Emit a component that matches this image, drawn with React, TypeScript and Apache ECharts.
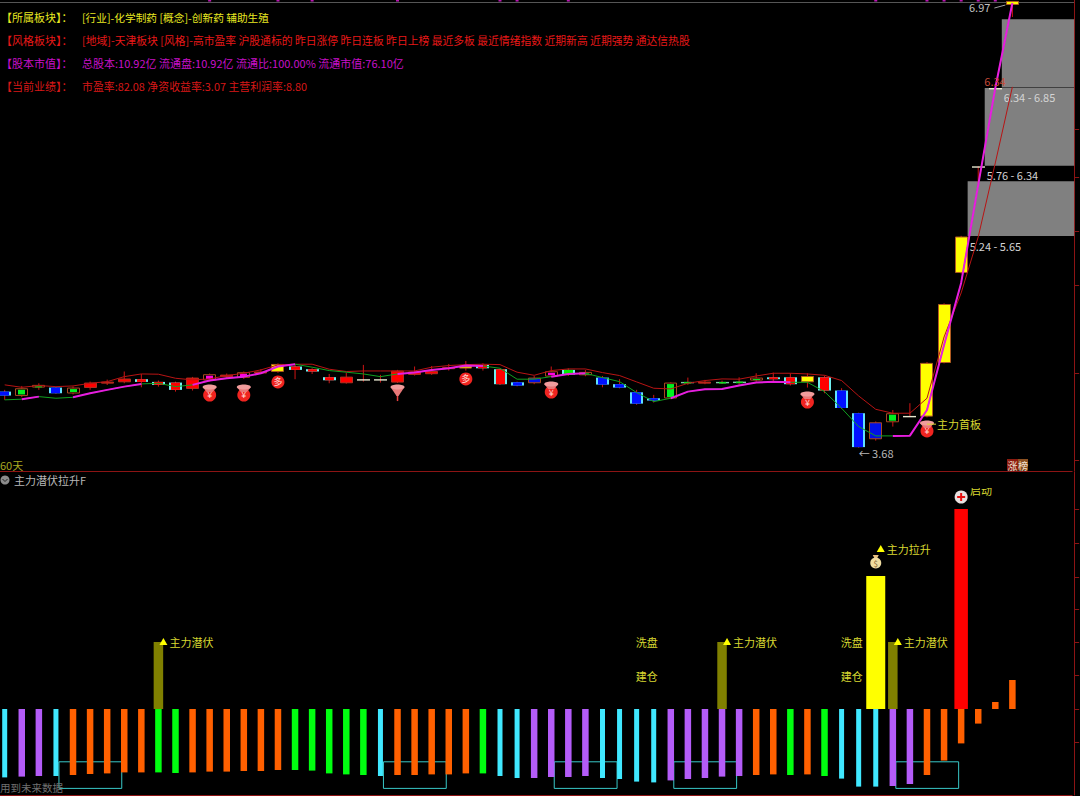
import React, { useEffect, useRef } from "react";
import * as echarts from "echarts";

// ---------- data ----------
const dayCount = 60;
const slotCount = 63;
const categories = Array.from({ length: slotCount }, (_, i) => String(i + 1));

const bodyTop = [4.091,4.116,4.141,4.121,4.121,4.158,4.165,4.188,4.183,4.163,4.158,4.195,4.220,4.217,4.235,4.240,4.296,4.277,4.257,4.198,4.202,4.183,4.183,4.247,4.240,4.244,4.272,4.284,4.289,4.257,4.160,4.195,4.242,4.252,4.237,4.195,4.146,4.086,4.042,4.158,4.163,4.165,4.163,4.165,4.195,4.197,4.197,4.207,4.197,4.099,3.931,3.864,3.931,3.911,4.304,4.740,5.240,5.760,6.340,6.985];
const bodyBottom = [4.062,4.059,4.121,4.079,4.077,4.118,4.151,4.160,4.163,4.141,4.104,4.111,4.173,4.198,4.193,4.230,4.237,4.252,4.240,4.175,4.153,4.178,4.178,4.158,4.215,4.220,4.259,4.262,4.264,4.146,4.136,4.153,4.202,4.217,4.212,4.143,4.121,4.002,4.025,4.040,4.156,4.153,4.155,4.153,4.173,4.183,4.146,4.160,4.099,3.970,3.680,3.738,3.864,3.906,3.906,4.303,4.970,5.755,6.335,6.955];
const highs = [4.104,4.133,4.153,4.125,4.130,4.165,4.180,4.240,4.222,4.173,4.165,4.200,4.225,4.225,4.240,4.257,4.300,4.296,4.264,4.222,4.232,4.289,4.215,4.252,4.277,4.281,4.296,4.318,4.301,4.260,4.165,4.207,4.277,4.264,4.252,4.207,4.183,4.104,4.067,4.160,4.195,4.178,4.173,4.197,4.227,4.232,4.227,4.227,4.210,4.116,3.935,3.870,3.955,4.005,4.310,4.745,5.245,5.760,6.340,6.985];
const lows = [4.030,4.050,4.104,4.075,4.070,4.105,4.140,4.153,4.123,4.128,4.091,4.099,4.165,4.190,4.185,4.222,4.230,4.183,4.222,4.153,4.150,4.165,4.158,4.155,4.210,4.215,4.247,4.247,4.247,4.140,4.130,4.146,4.200,4.207,4.205,4.123,4.115,3.993,4.010,4.035,4.141,4.146,4.148,4.141,4.165,4.158,4.136,4.121,4.079,3.963,3.676,3.728,3.832,3.906,3.900,4.300,4.965,5.640,6.335,6.866];
const candleKinds = ["BC","GB","GB","BC","GB","R","R","R","RC","RC","RC","R","MB","R","MB","R","Y","RC","RC","RC","R","D","D","R","R","R","R","Y","RC","RC","BC","BB","MB","GC","GB","BC","BC","BC","BC","GB","DG","R","DG","DG","GB","RC","RC","Y","RC","BC","BC","BB","GB","D","Y","Y","Y","D","D","Y"];

const redLine = [4.141,4.123,4.136,4.128,4.133,4.153,4.165,4.202,4.222,4.220,4.190,4.178,4.185,4.210,4.227,4.252,4.289,4.294,4.294,4.257,4.240,4.244,4.244,4.244,4.244,4.272,4.284,4.291,4.294,4.291,4.235,4.212,4.247,4.259,4.259,4.232,4.210,4.163,4.116,4.111,4.153,4.173,4.185,4.183,4.207,4.227,4.227,4.222,4.212,4.173,4.059,3.960,3.931,3.931,4.042,4.496,4.822,5.237,5.785,6.348];
const trendLine = [4.030,4.035,4.054,4.042,4.049,4.079,4.104,4.128,4.148,4.153,4.128,4.141,4.173,4.190,4.202,4.227,4.277,4.294,4.272,4.247,4.235,4.222,4.202,4.222,4.232,4.252,4.264,4.284,4.281,4.264,4.183,4.183,4.202,4.222,4.227,4.195,4.165,4.084,4.017,4.042,4.091,4.109,4.111,4.136,4.158,4.165,4.160,4.160,4.091,3.968,3.832,3.763,3.763,3.765,3.955,4.437,4.896,5.622,6.340,6.970];
const risingRanges = [[1,2],[4,8],[11,17],[23,28],[32,34],[39,46],[52,59]];

const zoneStart = [58, 57, 56];
const zoneLow = [6.34, 5.76, 5.24];
const zoneHigh = [6.85, 6.34, 5.65];

const topMarks = [12,16,18,23,29,30,33,51,54,55,56,57,58];

const iconIndex = [12,14,16,23,27,32,47,54];
const iconValue = [4.066,4.066,4.163,4.110,4.185,4.088,4.014,3.800];
const iconKinds = ["cap","cap","coin","stem","coin","cap","cap","cap"];

const noteIndex = [54, 50, 59, 58];
const noteValue = [3.850, 3.637, 6.940, 6.390];
const noteText = ["主力首板", "← 3.68", "6.97", "6.34"];

const lowerBars = [-34.2,-33.8,-33.5,-33.5,-33,-32.5,-32.2,-31.7,-31.7,-31.7,-32,-31.7,-31.3,-31.3,-31,-31,-30.5,-30.5,-30.8,-32.2,-32.7,-33,-33.5,-33,-33,-32.7,-32.7,-32.2,-32.2,-33.5,-34.5,-34.5,-34,-34,-33.5,-34.5,-35,-36.3,-36.7,-35.7,-35,-34.5,-33.8,-33.5,-33,-32.7,-33,-32.7,-33.5,-34.8,-38.8,-38.8,-38.5,-37.5,-33,-25.8,-17.2,-7.3,3.5,14.5];
const lowerKinds = ["C","P","P","C","O","O","O","O","O","G","G","O","O","O","O","O","O","G","G","G","G","G","C","O","O","O","O","O","G","C","C","P","P","P","P","C","C","C","C","P","P","P","P","P","O","O","G","O","G","C","C","C","P","P","O","O","O","O","O","O"];

const signalIndex = [9, 42, 51, 52, 56];
const signalValue = [33.5, 33.5, 66.5, 33.5, 100];
const signalKinds = ["olive", "olive", "yellow", "olive", "red"];

const bracketStart = [3, 22, 32, 39, 52];
const bracketEnd = [7, 26, 36, 43, 56];
const bracketTop = -26.4;
const bracketBottom = -39.7;

const tagIndex = [9, 42, 51, 52];
const tagValue = [33.5, 33.5, 80, 33.5];
const tagText = ["主力潜伏", "主力潜伏", "主力拉升", "主力潜伏"];

const sideIndex = [39, 39, 51, 51];
const sideValue = [33.5, 16.5, 33.5, 16.5];
const sideText = ["洗盘", "建仓", "洗盘", "建仓"];

const priceTicks = [6.037, 5.681, 5.281, 4.881, 4.229, 3.585];
const signalTicks = [100, 83, 66, 50, 33.5, 17, 0, -16.5];

const headerTitles = ["【所属板块】：", "【风格板块】：", "【股本市值】：", "【当前业绩】："];
const headerBodies = [
  "[行业]-化学制药 [概念]-创新药 辅助生殖",
  "[地域]-天津板块 [风格]-高市盈率 沪股通标的 昨日涨停 昨日连板 昨日上榜 最近多板 最近情绪指数 近期新高 近期强势 通达信热股",
  "总股本:10.92亿 流通盘:10.92亿 流通比:100.00% 流通市值:76.10亿",
  "市盈率:82.08 净资收益率:3.07 主营利润率:8.80",
];
const headerColors = ["#e8e820", "#e81818", "#c810c8", "#d81818"];
const headerSizes = [10.7, 10.8, 11, 10.9];

// ---------- styles ----------
const FONT = '"Noto Sans CJK SC", "Noto Sans", sans-serif';
const AXIS_RED = "#8c1414";
const candleStyles: Record<string, any> = {
  R: { fill: "#ff0000", edge: "#b03020" },
  RC: { fill: "#ff0000", side: "#70f0f0" },
  BC: { fill: "#0010ff", side: "#60e0ff" },
  GC: { fill: "#00f000", side: "#70f0f0" },
  BB: { fill: "#0010e8", edge: "#a84820" },
  GB: { inner: "#00f020", edge: "#a84820" },
  MB: { inner: "#ff00e0", edge: "#a84820" },
  Y: { fill: "#ffff00", edge: "#b05a20" },
  D: { dash: "#e8e8d0" },
  DG: { dash: "#78c8a0", core: "#10e020" },
};
const lowerStyles: Record<string, any> = {
  C: { color: "#40e8ff", width: 5 },
  P: { color: "#b45cf8", width: 6.5 },
  O: { color: "#ff6000", width: 6.5 },
  G: { color: "#00ff10", width: 6.5 },
};
const signalStyles: Record<string, any> = {
  olive: { color: "#808000", width: 9.5 },
  yellow: { color: "#ffff00", width: 19 },
  red: { color: "#ff0000", width: 13.5 },
};

function renderCandle(params: any, api: any) {
  const i = params.dataIndex;
  const cx = api.coord([i, 0])[0];
  const yTop = api.coord([i, bodyTop[i]])[1];
  const yBot = api.coord([i, bodyBottom[i]])[1];
  const yHigh = api.coord([i, highs[i]])[1];
  const yLow = api.coord([i, lows[i]])[1];
  const st = candleStyles[candleKinds[i]];
  const w = 13;
  const h = Math.max(1, yBot - yTop);
  const x = Math.round(cx - w / 2);
  const kids: any[] = [
    { type: "line", shape: { x1: cx, y1: yHigh, x2: cx, y2: yLow }, style: { stroke: "#d01414", lineWidth: 1 } },
  ];
  if (st.dash) {
    kids.push({ type: "rect", shape: { x, y: yTop, width: w, height: 1.4 }, style: { fill: st.dash } });
    if (st.core) kids.push({ type: "rect", shape: { x: x + 3, y: yTop, width: w - 6, height: 1.6 }, style: { fill: st.core } });
  } else if (st.side) {
    kids.push({ type: "rect", shape: { x, y: yTop, width: w, height: h }, style: { fill: st.side } });
    kids.push({ type: "rect", shape: { x: x + 2, y: yTop, width: w - 4, height: h }, style: { fill: st.fill } });
  } else if (st.inner) {
    kids.push({ type: "rect", shape: { x: x + 0.5, y: yTop + 0.5, width: w - 1, height: Math.max(1, h - 1) }, style: { fill: "#000", stroke: st.edge, lineWidth: 1 } });
    kids.push({ type: "rect", shape: { x: x + 3, y: yTop + 1.5, width: w - 6, height: Math.max(1, h - 3) }, style: { fill: st.inner } });
  } else {
    kids.push({ type: "rect", shape: { x: x + 0.5, y: yTop + 0.5, width: w - 1, height: Math.max(1, h - 1) }, style: { fill: st.fill, stroke: st.edge, lineWidth: 1 } });
  }
  return { type: "group", children: kids };
}

function renderZone(params: any, api: any) {
  const i = params.dataIndex;
  const left = api.coord([zoneStart[i], 0])[0] + 6.5;
  const right = params.coordSys.x + params.coordSys.width + 2;
  const yTop = api.coord([zoneStart[i], zoneHigh[i]])[1];
  const yBot = api.coord([zoneStart[i], zoneLow[i]])[1];
  return {
    type: "group",
    children: [
      { type: "rect", shape: { x: left, y: yTop, width: right - left, height: yBot - yTop - 0.5 }, style: { fill: "#808080" } },
      {
        type: "text",
        z2: 50,
        style: {
          text: `${zoneLow[i].toFixed(2)} - ${zoneHigh[i].toFixed(2)}`,
          x: left + 2,
          y: yBot + 9,
          fill: "#d4d4d4",
          fontSize: 11,
          fontFamily: FONT,
          verticalAlign: "middle",
        },
      },
    ],
  };
}

function renderIcon(params: any, api: any) {
  const i = params.dataIndex;
  const [cx, cy] = api.coord([iconIndex[i], iconValue[i]]);
  const kind = iconKinds[i];
  const kids: any[] = [];
  if (kind === "stem") {
    kids.push({ type: "line", shape: { x1: cx, y1: cy, x2: cx, y2: cy + 12 }, style: { stroke: "#e84040", lineWidth: 1.5 } });
    kids.push({ type: "polygon", shape: { points: [[cx - 7, cy - 2], [cx + 7, cy - 2], [cx + 1, cy + 7], [cx - 1, cy + 7]] }, style: { fill: "#e87878" } });
    kids.push({ type: "ellipse", shape: { cx, cy: cy - 2, rx: 7, ry: 2.5 }, style: { fill: "#f09c9c" } });
    return { type: "group", children: kids };
  }
  kids.push({ type: "circle", shape: { cx, cy, r: 6.5 }, style: { fill: "#f02420" } });
  kids.push({
    type: "text",
    style: { text: kind === "coin" ? "多" : "¥", x: cx, y: cy, fill: "#ffd8d0", fontSize: 9, fontFamily: FONT, align: "center", verticalAlign: "middle" },
  });
  if (kind === "cap") {
    kids.push({ type: "polygon", shape: { points: [[cx - 7, cy - 8], [cx + 7, cy - 8], [cx + 3, cy - 3], [cx - 3, cy - 3]] }, style: { fill: "#e87878" } });
    kids.push({ type: "ellipse", shape: { cx, cy: cy - 8, rx: 7, ry: 2.5 }, style: { fill: "#f09c9c" } });
  }
  return { type: "group", children: kids };
}

function renderNote(params: any, api: any) {
  const i = params.dataIndex;
  const [cx, cy] = api.coord([noteIndex[i], noteValue[i]]);
  const base = { fontSize: 11, fontFamily: FONT, verticalAlign: "middle" };
  if (i === 0)
    return {
      type: "group",
      children: [
        { type: "line", shape: { x1: cx, y1: cy, x2: cx + 9, y2: cy }, style: { stroke: "#d8d830", lineWidth: 1 } },
        { type: "text", style: { ...base, text: noteText[i], x: cx + 10, y: cy, fill: "#d8d830" } },
      ],
    };
  if (i === 1) return { type: "text", style: { ...base, text: noteText[i], x: cx, y: cy, fill: "#b8b8b8" } };
  if (i === 2)
    return {
      type: "group",
      children: [
        { type: "text", style: { ...base, text: noteText[i], x: cx - 22, y: cy, fill: "#c0c0c0", align: "right" } },
        { type: "line", shape: { x1: cx - 18, y1: cy + 1, x2: cx - 7, y2: cy - 2 }, style: { stroke: "#a0a0a0", lineWidth: 1 } },
      ],
    };
  return { type: "text", style: { ...base, text: noteText[i], x: cx - 11, y: cy, fill: "#c84a38" } };
}

function renderLower(params: any, api: any) {
  const i = params.dataIndex;
  const cx = api.coord([i, 0])[0];
  const y0 = api.coord([i, 0])[1];
  const y1 = api.coord([i, lowerBars[i]])[1];
  const st = lowerStyles[lowerKinds[i]];
  return {
    type: "rect",
    shape: { x: cx - st.width / 2, y: Math.min(y0, y1), width: st.width, height: Math.abs(y1 - y0) },
    style: { fill: st.color },
  };
}

function renderSignal(params: any, api: any) {
  const i = params.dataIndex;
  const idx = signalIndex[i];
  const cx = api.coord([idx, 0])[0];
  const y0 = api.coord([idx, 0])[1];
  const y1 = api.coord([idx, signalValue[i]])[1];
  const st = signalStyles[signalKinds[i]];
  return {
    type: "rect",
    shape: { x: cx - st.width / 2, y: y1, width: st.width, height: y0 - y1 },
    style: { fill: st.color },
  };
}

function renderBracket(params: any, api: any) {
  const i = params.dataIndex;
  const left = api.coord([bracketStart[i], 0])[0] + 3;
  const right = api.coord([bracketEnd[i], 0])[0] - 2.5;
  const yTop = api.coord([bracketStart[i], bracketTop])[1];
  const yBot = api.coord([bracketStart[i], bracketBottom])[1];
  return {
    type: "rect",
    shape: { x: left, y: yTop, width: right - left, height: yBot - yTop },
    style: { fill: "none", stroke: "#38c8c8", lineWidth: 1 },
  };
}

function renderTag(params: any, api: any) {
  const i = params.dataIndex;
  const [cx, cy] = api.coord([tagIndex[i], tagValue[i]]);
  return {
    type: "group",
    children: [
      { type: "polygon", shape: { points: [[cx + 5, cy - 4], [cx + 9, cy + 3], [cx + 1, cy + 3]] }, style: { fill: "#ffff00" } },
      { type: "text", style: { text: tagText[i], x: cx + 11, y: cy, fill: "#d8d830", fontSize: 11, fontFamily: FONT, verticalAlign: "middle" } },
    ],
  };
}

function renderSide(params: any, api: any) {
  const i = params.dataIndex;
  const [cx, cy] = api.coord([sideIndex[i], sideValue[i]]);
  return { type: "text", style: { text: sideText[i], x: cx - 13, y: cy, fill: "#d8d830", fontSize: 11, fontFamily: FONT, align: "right", verticalAlign: "middle" } };
}

function renderBadges(_params: any, api: any) {
  const [bagX, bagY] = api.coord([51, 73.5]);
  const [plusX, plusY] = api.coord([56, 106]);
  return {
    type: "group",
    children: [
      { type: "polygon", shape: { points: [[bagX - 3, bagY - 7], [bagX + 3, bagY - 7], [bagX + 1, bagY - 3], [bagX - 1, bagY - 3]] }, style: { fill: "#e8c080" } },
      { type: "circle", shape: { cx: bagX, cy: bagY + 1, r: 5.5 }, style: { fill: "#f0dca0" } },
      { type: "text", style: { text: "$", x: bagX, y: bagY + 1, fill: "#806030", fontSize: 8, fontFamily: FONT, align: "center", verticalAlign: "middle" } },
      { type: "circle", shape: { cx: plusX, cy: plusY, r: 6.5 }, style: { fill: "#e8e0e0" } },
      { type: "rect", shape: { x: plusX - 4, y: plusY - 1, width: 8, height: 2 }, style: { fill: "#e81010" } },
      { type: "rect", shape: { x: plusX - 1, y: plusY - 4, width: 2, height: 8 }, style: { fill: "#e81010" } },
    ],
  };
}

function customSeries(name: string, xAxisIndex: number, yAxisIndex: number, data: any[], renderItem: any, z: number) {
  return { name, type: "custom", xAxisIndex, yAxisIndex, data, renderItem, z, silent: true, clip: false, encode: { x: 0, y: 1 } };
}

function buildOption() {
  const indices = Array.from({ length: dayCount }, (_, i) => i);
  const risingLine = trendLine.map((v, i) => (risingRanges.some(([s, e]) => i >= s && i <= e) ? v : null));
  const header: any[] = [];
  headerTitles.forEach((title, i) => {
    const y = 17 + i * 23;
    header.push({ type: "text", x: 1, y, style: { text: title, fill: headerColors[i], fontSize: 11, fontFamily: FONT, verticalAlign: "middle" } });
    header.push({ type: "text", x: 82, y, style: { text: headerBodies[i], fill: headerColors[i], fontSize: headerSizes[i], fontFamily: FONT, verticalAlign: "middle" } });
  });
  return {
    animation: false,
    backgroundColor: "#000000",
    tooltip: { show: false },
    grid: [
      { left: -3.84, top: 0, width: 1076, height: 471, outerBoundsMode: "none" },
      { left: -3.84, top: 472, width: 1076, height: 323, outerBoundsMode: "none" },
    ],
    xAxis: [0, 1].map((g) => ({
      type: "category",
      gridIndex: g,
      data: categories,
      axisLine: { show: true, onZero: false, lineStyle: { color: AXIS_RED, width: 1 } },
      axisTick: { show: false },
      axisLabel: { show: false },
      splitLine: { show: false },
    })),
    yAxis: [
      {
        type: "value",
        gridIndex: 0,
        position: "right",
        offset: 2,
        min: 3.503,
        max: 6.992,
        axisLine: { show: true, lineStyle: { color: AXIS_RED } },
        axisTick: { show: true, inside: false, length: 5, lineStyle: { color: AXIS_RED }, customValues: priceTicks },
        axisLabel: { show: false },
        splitLine: { show: false },
      },
      {
        type: "value",
        gridIndex: 1,
        position: "right",
        offset: 2,
        min: -43,
        max: 118.5,
        axisLine: { show: true, onZero: false, lineStyle: { color: AXIS_RED } },
        axisTick: { show: true, inside: false, length: 5, lineStyle: { color: AXIS_RED }, customValues: signalTicks },
        axisLabel: { show: false },
        splitLine: { show: false },
      },
    ],
    graphic: [
      { type: "line", shape: { x1: 0, y1: 2.5, x2: 1074, y2: 2.5 }, style: { stroke: "#555555", lineWidth: 1 }, z: 1 },
      ...header,
      { type: "text", x: 0, y: 465, style: { text: "60天", fill: "#a8a820", fontSize: 11, fontFamily: FONT, verticalAlign: "middle" } },
      { type: "circle", shape: { cx: 5, cy: 480, r: 4.5 }, style: { fill: "#8c8c8c" } },
      { type: "polyline", shape: { points: [[2.5, 479], [5, 481.5], [7.5, 479]] }, style: { stroke: "#222", lineWidth: 1, fill: "none" } },
      { type: "text", x: 14, y: 480, style: { text: "主力潜伏拉升F", fill: "#b8b8b8", fontSize: 11, fontFamily: FONT, verticalAlign: "middle" } },
      { type: "text", x: 0, y: 787, z: 20, style: { text: "用到未来数据", fill: "#707070", fontSize: 10.5, fontFamily: FONT, verticalAlign: "middle" } },
      { type: "rect", shape: { x: 1007, y: 459, width: 11, height: 11.5 }, style: { fill: "#8c1c10" } },
      { type: "rect", shape: { x: 1018, y: 459, width: 10, height: 11.5 }, style: { fill: "#8c5020" } },
      { type: "text", x: 1007.5, y: 465, style: { text: "涨", fill: "#f0e0d0", fontSize: 10, fontFamily: FONT, verticalAlign: "middle" } },
      { type: "text", x: 1018, y: 465, style: { text: "榜", fill: "#f0e0d0", fontSize: 10, fontFamily: FONT, verticalAlign: "middle" } },
      { type: "text", x: 970, y: 490, style: { text: "启动", fill: "#d8d830", fontSize: 11, fontFamily: FONT, verticalAlign: "middle" } },
      { type: "rect", shape: { x: 966, y: 480, width: 30, height: 8 }, style: { fill: "#000000" }, z: 30 },
    ],
    series: [
      customSeries("zones", 0, 0, zoneStart.map((s, i) => [s, zoneHigh[i]]), renderZone, 1),
      customSeries("candles", 0, 0, indices.map((i) => [i, bodyTop[i], bodyBottom[i], lows[i], highs[i]]), renderCandle, 2),
      {
        name: "slow",
        type: "line",
        xAxisIndex: 0,
        yAxisIndex: 0,
        data: redLine,
        showSymbol: false,
        symbol: "none",
        z: 3,
        lineStyle: { color: "#b81414", width: 1 },
      },
      {
        name: "trend",
        type: "line",
        xAxisIndex: 0,
        yAxisIndex: 0,
        data: trendLine,
        symbol: "none",
        z: 4,
        lineStyle: { color: "#10a020", width: 1 },
      },
      {
        name: "rising",
        type: "line",
        xAxisIndex: 0,
        yAxisIndex: 0,
        data: risingLine,
        symbol: "none",
        connectNulls: false,
        z: 5,
        lineStyle: { color: "#e81ce0", width: 2 },
      },
      {
        name: "topMarks",
        type: "scatter",
        xAxisIndex: 0,
        yAxisIndex: 0,
        symbol: "rect",
        symbolSize: [3, 2],
        data: topMarks.map((i) => [i, 6.988]),
        itemStyle: { color: "#e81ce0" },
        z: 6,
      },
      customSeries("icons", 0, 0, iconIndex.map((s, i) => [s, iconValue[i]]), renderIcon, 7),
      customSeries("notes", 0, 0, noteIndex.map((s, i) => [s, noteValue[i]]), renderNote, 8),
      customSeries("brackets", 1, 1, bracketStart.map((s) => [s, bracketTop]), renderBracket, 1),
      customSeries("lower", 1, 1, indices.map((i) => [i, lowerBars[i]]), renderLower, 2),
      customSeries("signals", 1, 1, signalIndex.map((s, i) => [s, signalValue[i]]), renderSignal, 3),
      customSeries("tags", 1, 1, tagIndex.map((s, i) => [s, tagValue[i]]), renderTag, 4),
      customSeries("sides", 1, 1, sideIndex.map((s, i) => [s, sideValue[i]]), renderSide, 4),
      customSeries("badges", 1, 1, [[51, 73.5]], renderBadges, 4),
    ],
  };
}

export default function App() {
  const ref = useRef<HTMLDivElement>(null);
  useEffect(() => {
    document.body.style.margin = "0";
    document.body.style.background = "#000";
    const chart = echarts.init(ref.current!, null, { renderer: "svg" });
    chart.setOption(buildOption() as any);
    return () => chart.dispose();
  }, []);
  return <div ref={ref} style={{ position: "absolute", left: 0, top: 0, width: 1080, height: 796 }} />;
}
